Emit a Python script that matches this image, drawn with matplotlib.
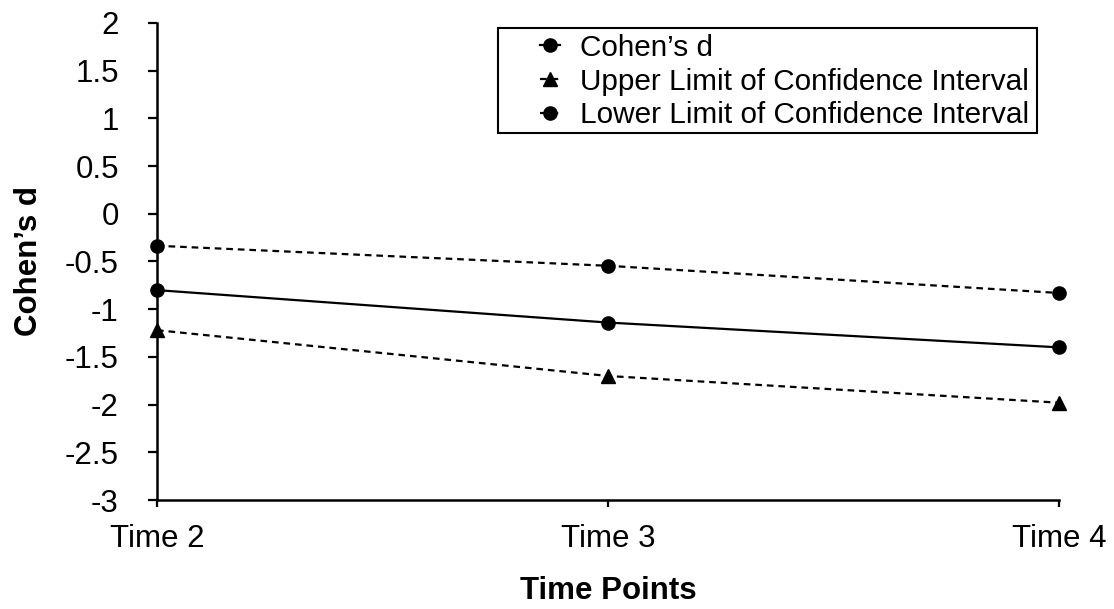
import matplotlib
matplotlib.use("Agg")
import matplotlib.pyplot as plt
from matplotlib.patches import Rectangle

time_points = ["Time 2", "Time 3", "Time 4"]
cohens_d = [-0.80, -1.14, -1.40]
upper_ci = [-1.22, -1.70, -1.98]
lower_ci = [-0.335, -0.545, -0.83]
y_ticks = [2, 1.5, 1, 0.5, 0, -0.5, -1, -1.5, -2, -2.5, -3]

plt.rcParams['font.family'] = ['Liberation Sans', 'DejaVu Sans']

W, H = 1114, 609
fig = plt.figure(figsize=(W / 100, H / 100), dpi=100)
ax = fig.add_axes([157 / W, 1 - 500 / H, (1059 - 157) / W, (500 - 23) / H])

dash = (0, (3, 2.2))
x = list(range(len(time_points)))
ax.plot(x, cohens_d, color='black', lw=1.6, marker='o', ms=9.5,
        label="Cohen\u2019s d", clip_on=False, zorder=3)
ax.plot(x, upper_ci, color='black', lw=1.6, ls=dash, marker='^', ms=9.5,
        label="Upper Limit of Confidence Interval", clip_on=False, zorder=3)
ax.plot(x, lower_ci, color='black', lw=1.6, ls=dash, marker='o', ms=9.5,
        label="Lower Limit of Confidence Interval", clip_on=False, zorder=3)

ax.set_xlim(0, len(time_points) - 1)
ax.set_ylim(-3, 2)
ax.set_xticks(x)
ax.set_xticklabels(time_points)
ax.set_yticks(y_ticks)
ax.set_yticklabels([f"{v:g}" for v in y_ticks])

for side in ('top', 'right'):
    ax.spines[side].set_visible(False)
for side in ('left', 'bottom'):
    ax.spines[side].set_linewidth(1.8)
ax.tick_params(axis='y', direction='out', length=6.5, width=1.6, labelsize=22.5, pad=21)
ax.tick_params(axis='x', direction='out', length=5, width=1.6, labelsize=22.5, pad=12)

ax.set_xlabel("Time Points", fontsize=22.5, fontweight='bold', labelpad=16)
ax.set_ylabel("Cohen\u2019s d", fontsize=22.5, fontweight='bold', labelpad=15)

# legend entries without a frame; the box is drawn separately
leg_fs = 21.4
leg = fig.legend(*ax.get_legend_handles_labels(), loc='center left',
                 bbox_to_anchor=(540 / W, 1 - 81.5 / H),
                 fontsize=leg_fs, frameon=False,
                 handlelength=0.67, handletextpad=0.67, borderpad=0,
                 labelspacing=0.19, borderaxespad=0)
fig.add_artist(Rectangle((498 / W, 1 - 133 / H), (1037 - 498) / W, (133 - 28) / H,
                         transform=fig.transFigure, fill=False,
                         edgecolor='black', lw=1.5))

fig.savefig("out.png", dpi=100)
